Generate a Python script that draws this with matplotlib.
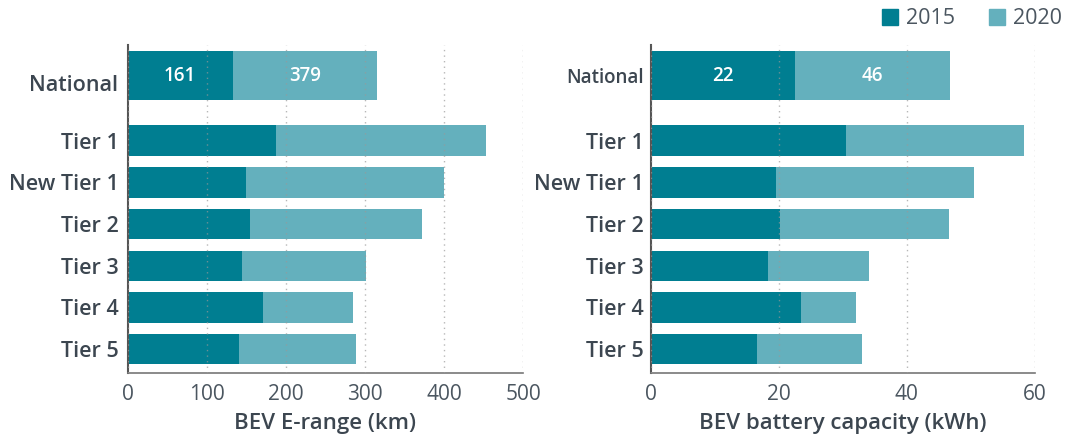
import matplotlib.pyplot as plt
from matplotlib.patches import Patch
from matplotlib.transforms import ScaledTranslation

plt.rcParams['font.family'] = ['Open Sans', 'DejaVu Sans']

# data
regions = ['National', 'Tier 1', 'New Tier 1', 'Tier 2', 'Tier 3', 'Tier 4', 'Tier 5']
range_2015 = [133, 187, 150, 155, 145, 171, 141]
range_2020 = [315, 453, 400, 372, 301, 285, 289]
range_labels = ['161', '379']
cap_2015 = [22.5, 30.5, 19.6, 20.2, 18.3, 23.5, 16.6]
cap_2020 = [46.8, 58.3, 50.5, 46.6, 34.1, 32.1, 33.0]
cap_labels = ['22', '46']

dark = '#007e91'
light = '#64b0bd'
txt = '#3c4650'
tick_txt = '#4b5660'

# bar layout: national row sits a bit apart and is thicker
ypos = [6.55, 5, 4, 3, 2, 1, 0]
heights = [1.17, 0.73, 0.73, 0.73, 0.73, 0.73, 0.73]

fig = plt.figure(figsize=(10.66, 4.37), dpi=100)
ax1 = fig.add_axes([127.5 / 1066, 1 - 373 / 437, 395.8 / 1066, 328 / 437])
ax2 = fig.add_axes([650.5 / 1066, 1 - 373 / 437, 384.5 / 1066, 328 / 437])


def draw(ax, v15, v20, labels, xmax, step, xlabel, nat_size, ypad):
    ax.barh(ypos, v20, height=heights, color=light, zorder=1)
    ax.barh(ypos, v15, height=heights, color=dark, zorder=2)
    # value labels on the national bar
    ax.text(v15[0] / 2, ypos[0], labels[0], color='white', ha='center',
            va='center', fontsize=13.5, fontweight='semibold', zorder=4)
    ax.text((v15[0] + v20[0]) / 2, ypos[0], labels[1], color='white', ha='center',
            va='center', fontsize=13.5, fontweight='semibold', zorder=4)
    ax.set_xlim(0, xmax)
    ax.set_ylim(-0.57, 7.29)
    ax.set_xticks(range(0, xmax + 1, step))
    ax.set_yticks(ypos)
    ax.set_yticklabels(regions, fontsize=15.5, fontweight='semibold', color=txt)
    ax.get_yticklabels()[0].set_fontsize(nat_size)
    ax.tick_params(axis='x', length=0, pad=8, labelsize=15, labelcolor=tick_txt)
    ax.tick_params(axis='y', length=0, pad=ypad)
    ax.xaxis.grid(True, linestyle=(0, (1, 3)), color='#999999', linewidth=1,
                  alpha=0.7, zorder=3)
    ax.set_axisbelow(False)
    for s in ['top', 'right']:
        ax.spines[s].set_visible(False)
    ax.spines['left'].set_color('#555555')
    ax.spines['left'].set_linewidth(1.5)
    ax.spines['bottom'].set_color('#777777')
    ax.spines['bottom'].set_linewidth(1.2)
    ax.set_xlabel(xlabel, fontsize=16, fontweight='semibold', color=txt, labelpad=6)


draw(ax1, range_2015, range_2020, range_labels, 500, 100, 'BEV E-range (km)', 15.5, 6.5)
draw(ax2, cap_2015, cap_2020, cap_labels, 60, 20, 'BEV battery capacity (kWh)', 13.5, 5)

# left "National" label sits a little below its bar in the original
lb = ax1.get_yticklabels()[0]
lb.set_transform(lb.get_transform() + ScaledTranslation(0, -7 / 100, fig.dpi_scale_trans))

handles = [Patch(color=dark), Patch(color=light)]
fig.legend(handles, ['2015', '2020'], loc='center right',
           bbox_to_anchor=(1062 / 1066, 1 - 19 / 437),
           ncol=2, frameon=False, handlelength=0.75, handleheight=0.75,
           handletextpad=0.35, columnspacing=1.6, borderaxespad=0, borderpad=0,
           labelcolor=tick_txt, prop={'size': 15.5})

fig.savefig('out.png', dpi=100)
